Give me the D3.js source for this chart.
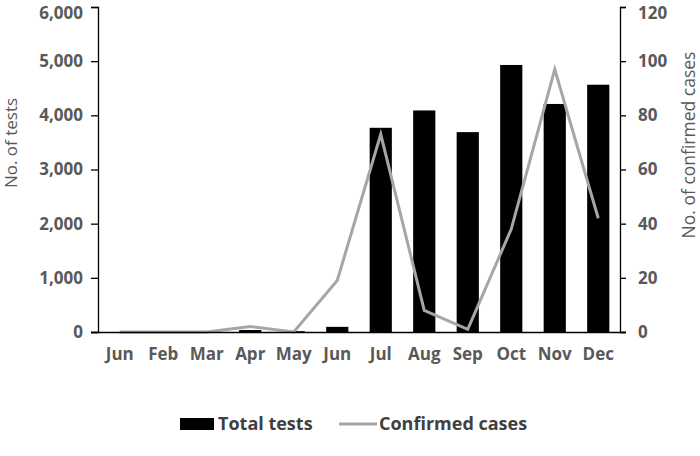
<!DOCTYPE html>
<html><head><meta charset="utf-8">
<script src="https://cdn.jsdelivr.net/npm/d3@7"></script>
<style>body{margin:0;background:#fff}svg{display:block}</style>
</head><body><svg id="c" width="700" height="456"></svg>
<script>
const months = ["Jun","Feb","Mar","Apr","May","Jun","Jul","Aug","Sep","Oct","Nov","Dec"];
const totalTests = [0,0,0,37,15,95,3770,4090,3690,4930,4210,4565];
const confirmedCases = [0,0,0,2,0,19,73,8,1,38,97,42];
const leftTicks = [0,1000,2000,3000,4000,5000,6000];
const rightTicks = [0,20,40,60,80,100,120];

const svg = d3.select("#c");
const L = 98, R = 620, T = 7, B = 332;
const font = "'Open Sans', 'DejaVu Sans', sans-serif";
const txt = "#595959";

const x = d3.scaleBand().domain(d3.range(months.length)).range([L, R]).paddingInner(0.49).paddingOuter(0.245);
const yL = d3.scaleLinear().domain([0, 6000]).range([B, T]);
const yR = d3.scaleLinear().domain([0, 120]).range([B, T]);

// bars
svg.append("g").selectAll("rect").data(totalTests).join("rect")
  .attr("x", (d,i) => x(i)).attr("width", x.bandwidth())
  .attr("y", d => yL(d)).attr("height", d => B - yL(d)).attr("fill", "#000");

// line
const line = d3.line().x((d,i) => x(i) + x.bandwidth()/2).y(d => yR(d));
svg.append("path").datum(confirmedCases).attr("d", line)
  .attr("fill", "none").attr("stroke", "#a6a6a6").attr("stroke-width", 3).attr("stroke-linejoin", "miter");

// axes
const gl = svg.append("g").attr("transform", `translate(${L},0)`)
  .call(d3.axisLeft(yL).tickValues(leftTicks).tickFormat(d3.format(",")).tickSizeOuter(0).tickSize(7).tickPadding(8));
const gr = svg.append("g").attr("transform", `translate(${R},0)`)
  .call(d3.axisRight(yR).tickValues(rightTicks).tickSizeOuter(0).tickSize(6).tickPadding(12));
const gx = svg.append("g").attr("transform", `translate(0,${B})`)
  .call(d3.axisBottom(x).tickFormat(i => months[i]).tickSize(0).tickPadding(16));
gx.select(".domain").attr("d", `M${L-7},0.5H${R+6}`);
[gl, gr, gx].forEach(g => {
  g.select(".domain").attr("stroke", "#000").attr("stroke-width", 1.3);
  g.selectAll(".tick line").attr("stroke", "#000").attr("stroke-width", 1.3);
  g.selectAll("text").attr("font-family", font).attr("font-size", 17).attr("font-weight", "bold").attr("fill", txt);
});
// keep the topmost labels inside the frame
[gl, gr].forEach(g => g.selectAll(".tick text").filter(d => d === 6000 || d === 120).attr("dy", "0.66em"));

// axis titles
svg.append("text").attr("transform", `translate(17,143) rotate(-90)`)
  .attr("text-anchor", "middle").attr("font-family", font).attr("font-size", 17).attr("fill", txt).text("No. of tests");
svg.append("text").attr("transform", `translate(695,145) rotate(-90)`)
  .attr("text-anchor", "middle").attr("font-family", font).attr("font-size", 17.5).attr("fill", txt).text("No. of confirmed cases");

// legend
const lg = svg.append("g");
lg.append("rect").attr("x", 180).attr("y", 418).attr("width", 34).attr("height", 12).attr("fill", "#000");
lg.append("text").attr("x", 218).attr("y", 430).attr("font-family", font).attr("font-size", 18).attr("font-weight", "bold").attr("fill", "#404040").text("Total tests");
lg.append("line").attr("x1", 339).attr("x2", 377).attr("y1", 424).attr("y2", 424).attr("stroke", "#a8a4a6").attr("stroke-width", 3);
lg.append("text").attr("x", 379).attr("y", 430).attr("font-family", font).attr("font-size", 18).attr("font-weight", "bold").attr("fill", "#404040").text("Confirmed cases");
</script></body></html>
